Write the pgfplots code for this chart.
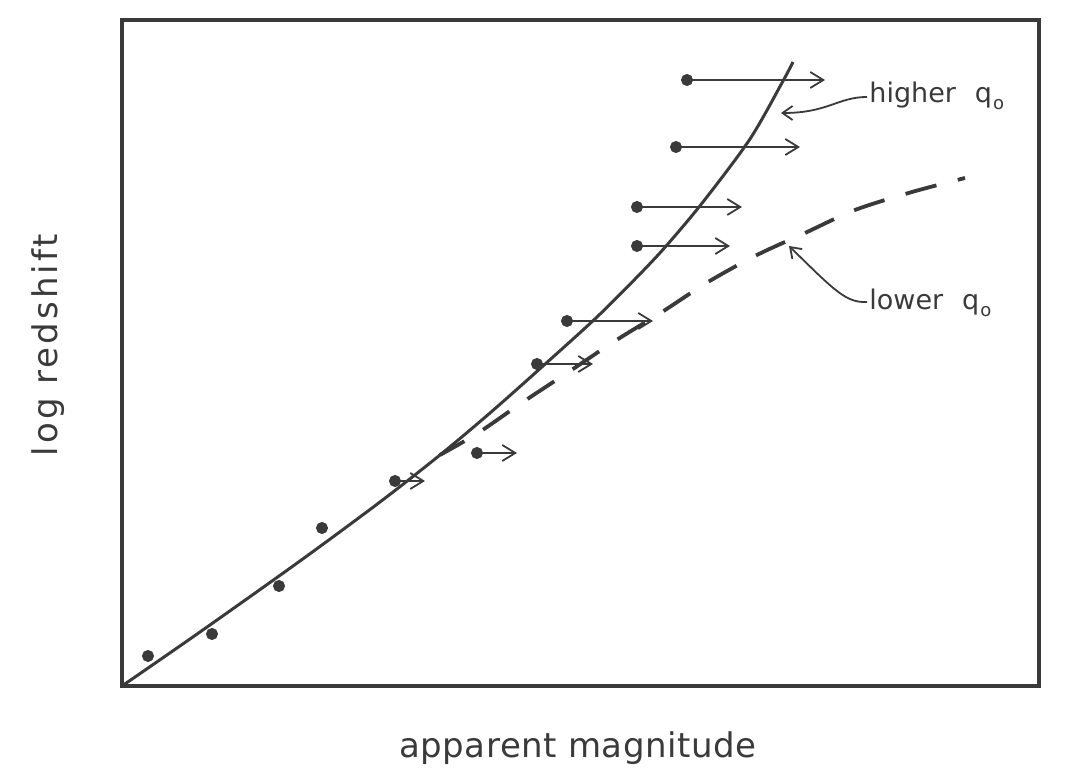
\documentclass[border=0pt]{standalone}
\usepackage{fontspec}
\setmainfont{DejaVu Sans}
\usepackage{pgfplots}
\usepackage{pgfplotstable}
\pgfplotsset{compat=1.18}
\usetikzlibrary{arrows.meta}
\definecolor{ink}{HTML}{3A3A3A}

% galaxies (dots)
\pgfplotstableread{
x   y
148 113
212 135
279 183
322 241
395 288
477 316
537 405
567 448
637 523
637 562
676 622
687 689
}\galaxies

% lower limits: arrow length u
\pgfplotstableread{
x   y   u   v
395 288 30  0
477 316 40  0
537 405 56  0
567 448 86  0
637 523 93  0
637 562 105 0
676 622 124 0
687 689 138 0
}\limits

\begin{document}
\begin{tikzpicture}
\begin{axis}[
  scale only axis,
  width=458.5pt, height=333pt,
  xmin=122, xmax=1039, ymin=83, ymax=749,
  ticks=none,
  axis line style={ink, line width=2.2pt, line cap=rect},
  clip=false,
  xlabel={apparent magnitude},
  ylabel={log redshift},
  every axis x label/.style={at={(axis description cs:0.497,-0.108)}, anchor=base,
    font=\fontsize{17}{17}\selectfont\addfontfeature{LetterSpace=1.5}, text=ink},
  every axis y label/.style={at={(axis description cs:-0.070,0.512)}, anchor=base, rotate=90,
    font=\fontsize{17}{17}\selectfont\addfontfeature{LetterSpace=9}, text=ink},
]
\path (axis cs:0,0) rectangle (axis cs:1088,769);

% higher q0 (solid)
\addplot[ink, line width=1.5pt, smooth] coordinates {
(122,83) (200,137) (300,208) (380,267) (440,314) (490,356) (543,403) (597,452)
(640,495) (667,524) (703,567) (750,630) (783,688) (793,707)};

% lower q0 (dashed)
\addplot[ink, line width=1.9pt, smooth, dash pattern=on 16pt off 11pt, dash phase=2pt] coordinates {
(440,314) (478,336) (523,367) (567,396) (615,428) (662,457) (708,487) (757,514)
(805,536) (855,559) (912,577) (965,591)};

% lower-limit arrows
\addplot[ink, line width=0.9pt, quiver={u=\thisrow{u}, v=\thisrow{v}},
  -{Straight Barb[length=6.5pt, width=8pt, line width=0.9pt]}] table {\limits};

% dots
\addplot[ink, only marks, mark=*, mark size=2.8pt] table[x=x, y=y] {\galaxies};

% annotations
\draw[ink, line width=0.9pt, -{Straight Barb[length=5pt, width=7pt]}]
  (axis cs:867,672) .. controls (axis cs:838,672) and (axis cs:828,656) .. (axis cs:781,656);
\node[anchor=base west, text=ink, font=\fontsize{13.5}{13.5}\selectfont, inner sep=0pt]
  at (axis cs:869,666) {higher\hspace{0.7em}q\kern0.5pt\raisebox{-0.45ex}{\fontsize{9}{9}\selectfont o}};

\draw[ink, line width=0.9pt, -{Straight Barb[length=5pt, width=7pt]}]
  (axis cs:867,467) .. controls (axis cs:846,466) and (axis cs:835,478) .. (axis cs:789,523);
\node[anchor=base west, text=ink, font=\fontsize{13.5}{13.5}\selectfont, inner sep=0pt]
  at (axis cs:869,459) {lower\hspace{0.7em}q\kern0.5pt\raisebox{-0.45ex}{\fontsize{9}{9}\selectfont o}};
\end{axis}
\end{tikzpicture}
\end{document}
